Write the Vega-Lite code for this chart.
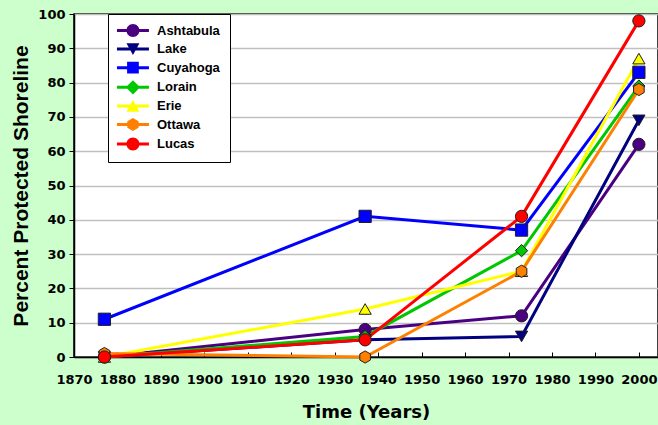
{
  "$schema": "https://vega.github.io/schema/vega-lite/v6.json",
  "autosize": "none",
  "width": 584,
  "height": 343,
  "padding": {"left": 74, "top": 14, "right": 0, "bottom": 68},
  "background": "#ccffcc",
  "config": {
    "view": {"fill": "white", "stroke": "black", "strokeWidth": 1.5},
    "axis": {"labelColor": "black", "titleColor": "black", "domainColor": "black", "tickColor": "black", "domainWidth": 1.5}
  },
  "data": {"values": [
    {"county": "Ashtabula", "year": 1877, "pct": 0},
    {"county": "Ashtabula", "year": 1937, "pct": 8},
    {"county": "Ashtabula", "year": 1973, "pct": 12},
    {"county": "Ashtabula", "year": 2000, "pct": 62},
    {"county": "Lake", "year": 1877, "pct": 0},
    {"county": "Lake", "year": 1937, "pct": 5},
    {"county": "Lake", "year": 1973, "pct": 6},
    {"county": "Lake", "year": 2000, "pct": 69},
    {"county": "Cuyahoga", "year": 1877, "pct": 11},
    {"county": "Cuyahoga", "year": 1937, "pct": 41},
    {"county": "Cuyahoga", "year": 1973, "pct": 37},
    {"county": "Cuyahoga", "year": 2000, "pct": 83},
    {"county": "Lorain", "year": 1877, "pct": 0},
    {"county": "Lorain", "year": 1937, "pct": 6},
    {"county": "Lorain", "year": 1973, "pct": 31},
    {"county": "Lorain", "year": 2000, "pct": 79},
    {"county": "Erie", "year": 1877, "pct": 0},
    {"county": "Erie", "year": 1937, "pct": 14},
    {"county": "Erie", "year": 1973, "pct": 25},
    {"county": "Erie", "year": 2000, "pct": 87},
    {"county": "Ottawa", "year": 1877, "pct": 1},
    {"county": "Ottawa", "year": 1937, "pct": 0},
    {"county": "Ottawa", "year": 1973, "pct": 25},
    {"county": "Ottawa", "year": 2000, "pct": 78},
    {"county": "Lucas", "year": 1877, "pct": 0},
    {"county": "Lucas", "year": 1937, "pct": 5},
    {"county": "Lucas", "year": 1973, "pct": 41},
    {"county": "Lucas", "year": 2000, "pct": 98}
  ]},
  "encoding": {
    "x": {
      "field": "year", "type": "quantitative",
      "scale": {"domain": [1870, 2004.4], "nice": false, "zero": false},
      "axis": {
        "values": [1870, 1880, 1890, 1900, 1910, 1920, 1930, 1940, 1950, 1960, 1970, 1980, 1990, 2000],
        "grid": false, "format": "d", "tickSize": -5, "labelPadding": 21,
        "labelFont": "DejaVu Sans", "labelFontWeight": "bold", "labelFontSize": 13,
        "title": "Time (Years)", "titleFont": "DejaVu Sans", "titleFontWeight": "bold", "titleFontSize": 18,
        "titlePadding": 17, "labelFlush": false, "labelOverlap": false
      }
    },
    "y": {
      "field": "pct", "type": "quantitative",
      "scale": {"domain": [0, 100], "nice": false},
      "axis": {
        "values": [0, 10, 20, 30, 40, 50, 60, 70, 80, 90, 100],
        "grid": true, "gridColor": "#c0c0c0", "gridWidth": 1.5, "tickSize": 5, "labelPadding": 4,
        "labelFont": "DejaVu Sans", "labelFontWeight": "bold", "labelFontSize": 13,
        "title": "Percent Protected Shoreline", "titleFont": "Liberation Sans", "titleFontWeight": "bold", "titleFontSize": 21,
        "titlePadding": 6, "labelFlush": false, "labelOverlap": false
      }
    }
  },
  "resolve": {"scale": {"color": "independent", "shape": "independent"}, "legend": {"color": "independent", "shape": "independent"}},
  "layer": [
    {
      "mark": {"type": "line", "strokeWidth": 3},
      "encoding": {
        "color": {
          "field": "county", "type": "nominal",
          "scale": {
            "domain": ["Ashtabula", "Lake", "Cuyahoga", "Lorain", "Erie", "Ottawa", "Lucas"],
            "range": ["#4b0082", "#000080", "#0000ff", "#00c800", "#ffff00", "#ff8000", "#ff0000"]
          },
          "legend": null
        }
      }
    },
    {
      "mark": {"type": "point", "filled": true, "size": 150, "stroke": "#202020", "strokeWidth": 1, "opacity": 1},
      "encoding": {
        "color": {
          "field": "county", "type": "nominal",
          "scale": {
            "domain": ["Ashtabula", "Lake", "Cuyahoga", "Lorain", "Erie", "Ottawa", "Lucas"],
            "range": ["#4b0082", "#000080", "#0000ff", "#00c800", "#ffff00", "#ff8000", "#ff0000"]
          },
          "legend": null
        },
        "shape": {
          "field": "county", "type": "nominal",
          "scale": {
            "domain": ["Ashtabula", "Lake", "Cuyahoga", "Lorain", "Erie", "Ottawa", "Lucas"],
            "range": ["circle", "triangle-down", "square", "diamond", "triangle-up", "M0,-1L0.866,-0.5L0.866,0.5L0,1L-0.866,0.5L-0.866,-0.5Z", "circle"]
          },
          "legend": null
        }
      }
    },
    {
      "transform": [{"filter": "false"}],
      "mark": {"type": "point", "filled": true, "size": 169, "opacity": 1},
      "encoding": {
        "color": {
          "field": "county", "type": "nominal",
          "scale": {
            "domain": ["Ashtabula", "Lake", "Cuyahoga", "Lorain", "Erie", "Ottawa", "Lucas"],
            "range": ["#4b0082", "#000080", "#0000ff", "#00c800", "#ffff00", "#ff8000", "#ff0000"]
          },
          "legend": {
            "title": null, "orient": "none", "legendX": 34, "legendY": 0,
            "fillColor": "white", "strokeColor": "black", "padding": 10, "rowPadding": 4.6,
            "symbolSize": 169, "labelOffset": 26, "symbolStrokeWidth": 0,
            "labelFont": "Liberation Sans", "labelFontWeight": "bold", "labelFontSize": 13, "labelColor": "black"
          }
        },
        "shape": {
          "field": "county", "type": "nominal",
          "scale": {
            "domain": ["Ashtabula", "Lake", "Cuyahoga", "Lorain", "Erie", "Ottawa", "Lucas"],
            "range": [
              "M-1.16,-0.23H3.76V0.23H-1.16ZM0.3,0A1,1 0 1,1 2.3,0A1,1 0 1,1 0.3,0Z",
              "M-1.16,-0.23H3.76V0.23H-1.16ZM0.3,-0.9L2.3,-0.9L1.3,0.9Z",
              "M-1.16,-0.23H3.76V0.23H-1.16ZM0.4,-0.9H2.2V0.9H0.4Z",
              "M-1.16,-0.23H3.76V0.23H-1.16ZM1.3,-1.1L2.4,0L1.3,1.1L0.2,0Z",
              "M-1.16,-0.23H3.76V0.23H-1.16ZM1.3,-0.9L2.3,0.9L0.3,0.9Z",
              "M-1.16,-0.23H3.76V0.23H-1.16ZM1.3,-1L2.17,-0.5L2.17,0.5L1.3,1L0.43,0.5L0.43,-0.5Z",
              "M-1.16,-0.23H3.76V0.23H-1.16ZM0.3,0A1,1 0 1,1 2.3,0A1,1 0 1,1 0.3,0Z"
            ]
          },
          "legend": {
            "title": null, "orient": "none", "legendX": 34, "legendY": 0,
            "fillColor": "white", "strokeColor": "black", "padding": 10, "rowPadding": 4.6,
            "symbolSize": 169, "labelOffset": 26, "symbolStrokeWidth": 0,
            "labelFont": "Liberation Sans", "labelFontWeight": "bold", "labelFontSize": 13, "labelColor": "black"
          }
        }
      }
    }
  ]
}
